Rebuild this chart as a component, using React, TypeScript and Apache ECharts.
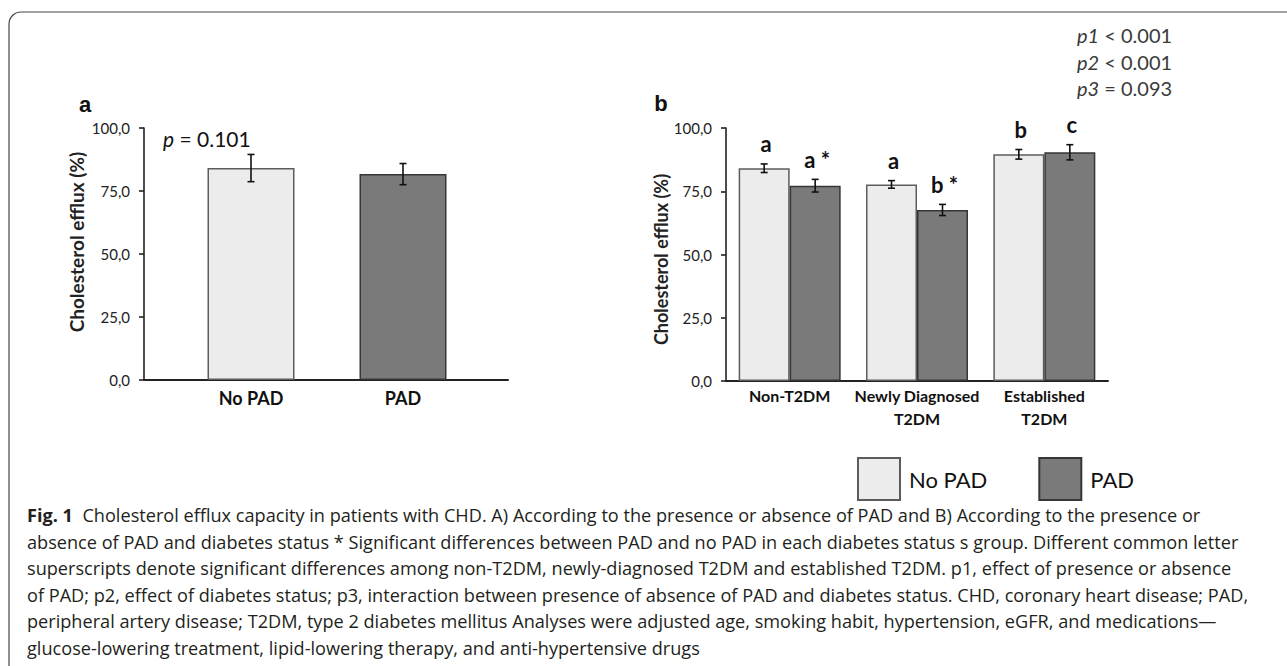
import React, { useEffect, useRef } from 'react';
import * as echarts from 'echarts';

// ---------- data ----------
const panelACategories = ['No PAD', 'PAD'];
const panelAMeans = [84.1, 81.7];
const panelAErrors = [5.4, 4.2];

const panelBCategories = ['Non-T2DM', 'Newly Diagnosed\nT2DM', 'Established\nT2DM'];
const noPadMeans = [84.1, 77.7, 89.6];
const noPadErrors = [1.7, 1.5, 1.9];
const padMeans = [77.2, 67.6, 90.4];
const padErrors = [2.5, 2.2, 3.0];
const noPadLetters = ['a', 'a', 'b'];
const padLetters = ['a *', 'b *', 'c'];

const seriesNames = ['No PAD', 'PAD'];
const yMin = 0;
const yMax = 100;
const yStep = 25;

const pValueA = ['p', '= 0.101'];
const pValuesB = [
  ['p1', '< 0.001'],
  ['p2', '< 0.001'],
  ['p3', '= 0.093'],
];

const captionLines = [
  'Cholesterol efflux capacity in patients with CHD. A) According to the presence or absence of PAD and B) According to the presence or',
  'absence of PAD and diabetes status * Significant differences between PAD and no PAD in each diabetes status s group. Different common letter',
  'superscripts denote significant differences among non-T2DM, newly-diagnosed T2DM and established T2DM. p1, effect of presence or absence',
  'of PAD; p2, effect of diabetes status; p3, interaction between presence of absence of PAD and diabetes status. CHD, coronary heart disease; PAD,',
  'peripheral artery disease; T2DM, type 2 diabetes mellitus Analyses were adjusted age, smoking habit, hypertension, eGFR, and medications\u2014',
  'glucose-lowering treatment, lipid-lowering therapy, and anti-hypertensive drugs',
];

// ---------- styles ----------
const LIGHT = '#ececec';
const LIGHT_BORDER = '#5c5c5c';
const DARK = '#7a7a7a';
const DARK_BORDER = '#363636';
const FONT = 'Lato, "Open Sans", sans-serif';
const CAPTION_FONT = '"Open Sans", Lato, sans-serif';

function measure(text: string, font: string) {
  const ctx = document.createElement('canvas').getContext('2d');
  if (!ctx) return 1;
  ctx.font = font;
  return ctx.measureText(text).width;
}

function makeErrorSeries(
  xAxisIndex: number,
  yAxisIndex: number,
  means: number[],
  errors: number[],
  letters: string[] | null,
  offset: number
) {
  return {
    type: 'custom',
    xAxisIndex,
    yAxisIndex,
    z: 10,
    silent: true,
    data: means.map((m, i) => [i, m - errors[i], m + errors[i]]),
    encode: { x: 0, y: [1, 2] },
    renderItem: (params: any, api: any) => {
      const i = api.value(0);
      const lo = api.coord([i, api.value(1)]);
      const hi = api.coord([i, api.value(2)]);
      const x = lo[0] + offset;
      const cap = 3.5;
      const style = { stroke: '#111', lineWidth: 1.6 };
      const children: any[] = [
        { type: 'line', shape: { x1: x, y1: hi[1], x2: x, y2: lo[1] }, style },
        { type: 'line', shape: { x1: x - cap, y1: hi[1], x2: x + cap, y2: hi[1] }, style },
        { type: 'line', shape: { x1: x - cap, y1: lo[1], x2: x + cap, y2: lo[1] }, style },
      ];
      if (letters) {
        children.push({
          type: 'text',
          x: x + 2,
          y: hi[1] - 20,
          style: {
            text: letters[params.dataIndex],
            fill: '#111',
            fontSize: 22,
            fontWeight: 'bold',
            fontFamily: FONT,
            align: 'center',
            verticalAlign: 'middle',
          },
        });
      }
      return { type: 'group', children };
    },
  };
}

export default function App() {
  const ref = useRef<HTMLDivElement>(null);

  useEffect(() => {
    document.body.style.margin = '0';
    if (!ref.current) return;
    const chart = echarts.init(ref.current, undefined, { renderer: 'svg' });

    const yLabelFormatter = (v: number) => v.toFixed(1).replace('.', ',');
    const captionFontSize = 18;
    const captionScale =
      (1239 - 27) / measure(captionLines[1], `${captionFontSize}px ${CAPTION_FONT}`);

    const valueAxisBase = {
      type: 'value',
      min: yMin,
      max: yMax,
      interval: yStep,
      splitLine: { show: false },
    };

    const visibleYAxis = (gridIndex: number, nameSize: number, gap: number, padding: number[]) => ({
      ...valueAxisBase,
      gridIndex,
      name: 'Cholesterol efflux (%)',
      nameLocation: 'middle',
      nameGap: gap,
      nameTextStyle: {
        fontSize: nameSize,
        fontWeight: 'bold',
        fontFamily: FONT,
        color: '#222',
        padding,
      },
      axisLine: { show: true, lineStyle: { color: '#222', width: 1.6 } },
      axisTick: { show: true, inside: false, length: 5, lineStyle: { color: '#222', width: 1.6 } },
      axisLabel: {
        formatter: yLabelFormatter,
        fontSize: 15,
        fontFamily: FONT,
        color: '#222',
        margin: 14,
      },
    });

    const option: any = {
      animation: false,
      backgroundColor: '#ffffff',
      grid: [
        { left: 144, right: 1287 - 508, top: 128, bottom: 666 - 380 },
        { left: 175, right: 1287 - 479, top: 128, bottom: 666 - 380 },
        { left: 726, right: 1287 - 1108, top: 128, bottom: 666 - 381 },
      ],
      xAxis: [
        {
          type: 'category',
          gridIndex: 0,
          data: panelACategories,
          axisLine: { show: true, lineStyle: { color: '#222', width: 2 } },
          axisTick: { show: false },
          axisLabel: { show: false },
        },
        {
          type: 'category',
          gridIndex: 1,
          data: panelACategories,
          axisLine: { show: false },
          axisTick: { show: false },
          axisLabel: {
            fontSize: 18,
            fontWeight: 'bold',
            fontFamily: FONT,
            color: '#111',
            margin: 9,
          },
        },
        {
          type: 'category',
          gridIndex: 2,
          data: panelBCategories,
          axisLine: { show: true, lineStyle: { color: '#222', width: 2 } },
          axisTick: { show: false },
          axisLabel: {
            fontSize: 16,
            fontWeight: 'bold',
            fontFamily: FONT,
            color: '#111',
            margin: 3,
            lineHeight: 23,
            interval: 0,
          },
        },
      ],
      yAxis: [
        visibleYAxis(0, 19, 58, [0, 0, 0, 24]),
        { ...valueAxisBase, gridIndex: 1, show: false },
        visibleYAxis(2, 18, 56, [0, 10, 0, 0]),
      ],
      legend: {
        data: seriesNames,
        left: 852,
        top: 452,
        itemWidth: 42,
        itemHeight: 42,
        itemGap: 51,
        icon: 'rect',
        selectedMode: false,
        textStyle: { fontSize: 22, fontFamily: FONT, color: '#111', padding: [0, 0, 0, 4] },
      },
      series: [
        {
          type: 'bar',
          name: 'panel a',
          xAxisIndex: 1,
          yAxisIndex: 1,
          barWidth: 87,
          data: panelAMeans.map((v, i) => ({
            value: v,
            itemStyle: {
              color: i === 0 ? LIGHT : DARK,
              borderColor: i === 0 ? LIGHT_BORDER : DARK_BORDER,
              borderWidth: 1.5,
            },
          })),
        },
        makeErrorSeries(1, 1, panelAMeans, panelAErrors, null, 0),
        {
          type: 'bar',
          name: seriesNames[0],
          xAxisIndex: 2,
          yAxisIndex: 2,
          barWidth: 51,
          barGap: '0%',
          itemStyle: { color: LIGHT, borderColor: LIGHT_BORDER, borderWidth: 1.5 },
          data: noPadMeans,
        },
        {
          type: 'bar',
          name: seriesNames[1],
          xAxisIndex: 2,
          yAxisIndex: 2,
          barWidth: 51,
          barGap: '0%',
          itemStyle: { color: DARK, borderColor: DARK_BORDER, borderWidth: 1.5 },
          data: padMeans,
        },
        makeErrorSeries(2, 2, noPadMeans, noPadErrors, noPadLetters, -25.5),
        makeErrorSeries(2, 2, padMeans, padErrors, padLetters, 25.5),
      ],
      graphic: [
        {
          type: 'rect',
          silent: true,
          shape: { x: 9, y: 12, width: 1300, height: 700, r: 12 },
          style: { fill: 'none', stroke: '#444', lineWidth: 1.2 },
        },
        {
          type: 'text',
          x: 85,
          y: 104,
          style: {
            text: 'a',
            fontSize: 22,
            fontWeight: 'bold',
            fontFamily: '"Liberation Sans", Arial, sans-serif',
            fill: '#111',
            align: 'center',
            verticalAlign: 'middle',
          },
        },
        {
          type: 'text',
          x: 661,
          y: 103,
          style: {
            text: 'b',
            fontSize: 22,
            fontWeight: 'bold',
            fontFamily: '"Liberation Sans", Arial, sans-serif',
            fill: '#111',
            align: 'center',
            verticalAlign: 'middle',
          },
        },
        {
          type: 'text',
          x: 163,
          y: 138,
          style: {
            text: `{i|${pValueA[0]}} ${pValueA[1]}`,
            fontSize: 21,
            fontFamily: FONT,
            fill: '#111',
            verticalAlign: 'middle',
            rich: { i: { fontStyle: 'italic', fontSize: 21, fontFamily: FONT, fill: '#111' } },
          },
        },
        ...pValuesB.map((p, i) => ({
          type: 'text',
          x: 1077,
          y: 35 + i * 26.5,
          style: {
            text: `{i|${p[0]}} ${p[1]}`,
            fontSize: 20,
            fontFamily: FONT,
            fill: '#3a3a3a',
            verticalAlign: 'middle',
            rich: { i: { fontStyle: 'italic', fontSize: 20, fontFamily: FONT, fill: '#3a3a3a' } },
          },
        })),
        ...captionLines.map((line, i) => ({
          type: 'text',
          x: 27,
          y: 515 + i * 26.6,
          scaleX: captionScale,
          style: {
            text: i === 0 ? `{f|Fig. 1}  ${line}` : line,
            fontSize: captionFontSize,
            fontFamily: CAPTION_FONT,
            fill: '#231f20',
            verticalAlign: 'middle',
            rich: {
              f: { fontWeight: 'bold', fontSize: captionFontSize, fontFamily: CAPTION_FONT, fill: '#231f20' },
            },
          },
        })),
      ],
    };

    chart.setOption(option);
    return () => chart.dispose();
  }, []);

  return <div ref={ref} style={{ width: 1287, height: 666 }} />;
}
